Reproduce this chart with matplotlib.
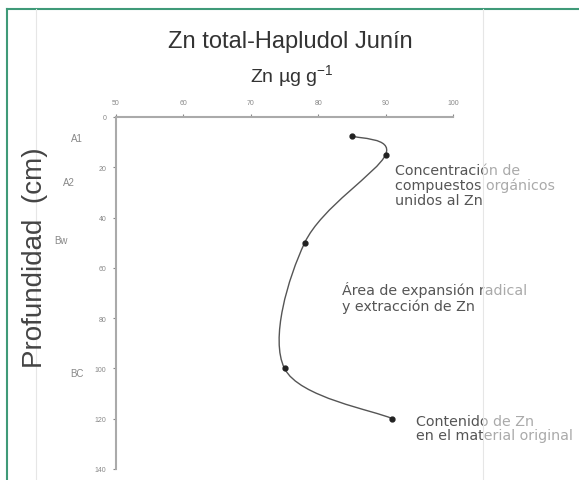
import numpy as np
import matplotlib
matplotlib.use('Agg')
import matplotlib.pyplot as plt
import matplotlib.transforms as mtransforms
from matplotlib.path import Path
from matplotlib.patches import PathPatch, Rectangle
from matplotlib.lines import Line2D

zn = [85, 90, 78, 75, 91]
depth = [7.5, 15, 50, 100, 120]
horizons = ['A1', 'A2', 'Bw', 'BC']
horizon_depth = [8.5, 26, 49, 102]
xticks = [50, 60, 70, 80, 90, 100]
yticks = [0, 20, 40, 60, 80, 100, 120, 140]

plt.rcParams['font.family'] = ['Liberation Sans', 'DejaVu Sans']

fig = plt.figure(figsize=(5.79, 4.81), dpi=100)
fig.patch.set_facecolor('white')

# frame of the picture (green border + faint guide lines)
fig.add_artist(Line2D([7/579, 7/579], [0, 1-10/481], color='#3f9a78', lw=1.5))
fig.add_artist(Line2D([7/579, 1], [1-10/481, 1-10/481], color='#3f9a78', lw=1.5))
fig.add_artist(Line2D([36/579, 36/579], [0, 1-10/481], color='#e6e6e6', lw=0.8))
fig.add_artist(Line2D([483/579, 483/579], [0, 1-10/481], color='#e6e6e6', lw=0.8))

ax = fig.add_axes([116/579, 1-470/481, 337/579, 352/481])
ax.set_xlim(50, 100)
ax.set_ylim(140, 0)
ax.set_facecolor('none')

# smooth curve through points (Catmull-Rom -> cubic Bezier)
pts = np.column_stack([zn, depth]).astype(float)
verts = [tuple(pts[0])]
codes = [Path.MOVETO]
n = len(pts)
for i in range(n-1):
    p0 = pts[i-1] if i > 0 else pts[i]
    p1 = pts[i]
    p2 = pts[i+1]
    p3 = pts[i+2] if i+2 < n else pts[i+1]
    c1 = p1 + (p2 - p0)/6
    c2 = p2 - (p3 - p1)/6
    verts += [tuple(c1), tuple(c2), tuple(p2)]
    codes += [Path.CURVE4]*3
ax.add_patch(PathPatch(Path(verts, codes), fill=False, edgecolor='#555555', lw=1.0))
ax.plot(zn, depth, 'o', color='#222222', ms=3.5, zorder=3)

ax.xaxis.tick_top()
ax.set_xticks(xticks)
ax.set_yticks(yticks)
ax.tick_params(axis='both', labelsize=5, colors='#888888', length=2, width=0.8)
ax.tick_params(axis='x', pad=6)
ax.tick_params(axis='y', pad=5)
for s in ['right', 'bottom']:
    ax.spines[s].set_visible(False)
for s in ['top', 'left']:
    ax.spines[s].set_color('#aaaaaa')
    ax.spines[s].set_linewidth(1.5)

fig.text(290/579, 1-42/481, 'Zn total-Hapludol Junín', ha='center', va='center',
         fontsize=17, color='#333333')
fig.text(292/579, 1-77/481, 'Zn µg g$^{\\mathregular{-1}}$', ha='center', va='center',
         fontsize=14, color='#333333')
fig.text(35/579, 1-258/481, 'Profundidad  (cm)', ha='center', va='center',
         rotation=90, fontsize=20, color='#444444')

htrans = mtransforms.blended_transform_factory(fig.transFigure, ax.transData)
for h, d, xp in zip(horizons, horizon_depth, [77, 69, 61, 77]):
    ax.text(xp/579, d, h, transform=htrans,
            ha='center', va='center', fontsize=7, color='#888888')

note_kw = dict(transform=fig.transFigure, ha='left', va='center', fontsize=10.3,
               family='DejaVu Sans', color='#555555', linespacing=1.05)
ax.text(395/579, 1-186/481, 'Concentración de\ncompuestos orgánicos\nunidos al Zn', **note_kw)
ax.text(342/579, 1-298/481, 'Área de expansión radical\ny extracción de Zn', **note_kw)
ax.text(416/579, 1-429/481, 'Contenido de Zn\nen el material original', **note_kw)

# text to the right of the guide line looks faded in the original
fig.add_artist(Rectangle((484/579, 1-470/481), 95/579, 330/481,
                         transform=fig.transFigure, facecolor='white',
                         alpha=0.5, edgecolor='none', zorder=5))

fig.savefig('out.png', dpi=100)
